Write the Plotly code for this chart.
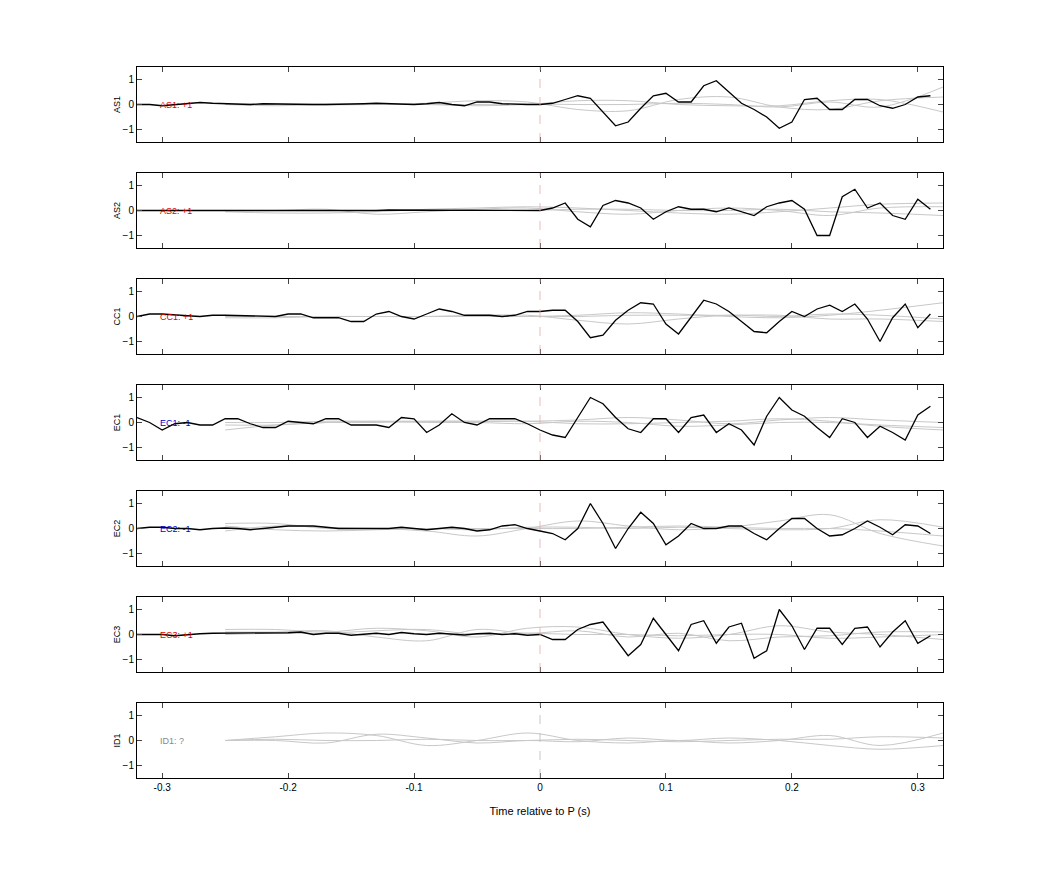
import plotly.graph_objects as go

t_black = [round(-0.32 + 0.01*i, 2) for i in range(64)]
t_gray = [-0.25, -0.21, -0.17, -0.13, -0.09, -0.05, -0.01, 0.03, 0.07, 0.11, 0.15, 0.19, 0.23, 0.27, 0.32]

channels = ["AS1", "AS2", "CC1", "EC1", "EC2", "EC3", "ID1"]
labels = ["AS1: +1", "AS2: +1", "CC1: +1", "EC1: -1", "EC2: -1", "EC3: +1", "ID1: ?"]
label_colors = ["#dd0000", "#dd0000", "#dd0000", "#0000cc", "#0000cc", "#dd0000", "#888888"]

as1 = [0.0, 0.0, -0.05, 0.0, 0.05, 0.08, 0.05, 0.03, 0.02, 0.0, 0.03, 0.02, 0.0, 0.02, 0.0, 0.0, 0.0, 0.0, 0.03, 0.05, 0.03, 0.0, 0.0, 0.03, 0.08, 0.0, -0.05, 0.1, 0.1, 0.03, 0.0, 0.0,
       0.0, 0.05, 0.2, 0.35, 0.25, -0.3, -0.85, -0.7, -0.15, 0.35, 0.45, 0.1, 0.1, 0.75, 0.95, 0.5, 0.05, -0.2, -0.5, -0.95, -0.7, 0.2, 0.25, -0.2, -0.2, 0.2, 0.2, -0.05, -0.15, 0.0, 0.3, 0.35]
as2 = [0.0, 0.0, 0.0, 0.0, 0.0, 0.0, 0.0, -0.02, 0.0, 0.0, 0.0, 0.0, 0.0, 0.0, 0.0, 0.0, 0.0, 0.0, 0.0, 0.0, 0.02, 0.02, 0.03, 0.03, 0.03, 0.02, 0.02, 0.02, 0.0, 0.0, 0.0, 0.0,
       0.0, 0.1, 0.3, -0.35, -0.65, 0.2, 0.4, 0.3, 0.1, -0.35, -0.05, 0.15, 0.05, 0.05, -0.05, 0.1, -0.05, -0.2, 0.15, 0.3, 0.4, 0.05, -1.0, -1.0, 0.55, 0.85, 0.1, 0.3, -0.2, -0.35, 0.45, 0.05]
cc1 = [0.0, 0.1, 0.1, 0.05, 0.03, 0.0, 0.05, 0.05, 0.03, 0.02, 0.0, 0.0, 0.1, 0.1, -0.05, -0.05, -0.05, -0.2, -0.2, 0.1, 0.2, 0.0, -0.1, 0.1, 0.3, 0.2, 0.05, 0.05, 0.05, 0.0, 0.05, 0.2,
       0.2, 0.25, 0.25, -0.2, -0.85, -0.75, -0.15, 0.25, 0.55, 0.5, -0.3, -0.7, 0.0, 0.65, 0.5, 0.2, -0.2, -0.6, -0.65, -0.2, 0.2, 0.0, 0.3, 0.45, 0.2, 0.5, -0.1, -1.0, -0.05, 0.5, -0.45, 0.1]
ec1 = [0.2, 0.0, -0.3, -0.05, 0.0, -0.1, -0.1, 0.15, 0.15, -0.05, -0.2, -0.2, 0.05, 0.0, -0.05, 0.15, 0.15, -0.1, -0.1, -0.1, -0.2, 0.2, 0.15, -0.4, -0.1, 0.35, 0.0, -0.1, 0.15, 0.15, 0.15, -0.05,
       -0.3, -0.5, -0.6, 0.2, 1.0, 0.75, 0.2, -0.25, -0.4, 0.15, 0.15, -0.4, 0.2, 0.3, -0.4, -0.05, -0.3, -0.9, 0.25, 1.0, 0.5, 0.25, -0.2, -0.6, 0.15, 0.0, -0.6, -0.15, -0.4, -0.7, 0.3, 0.65]
ec2 = [0.0, 0.05, 0.05, 0.0, 0.0, -0.05, 0.0, 0.02, 0.0, -0.05, 0.0, 0.05, 0.1, 0.1, 0.1, 0.05, 0.0, 0.0, 0.0, -0.03, 0.0, 0.05, 0.0, -0.05, 0.0, 0.05, 0.0, -0.1, -0.05, 0.1, 0.15, 0.0,
       -0.1, -0.2, -0.45, 0.0, 1.0, 0.2, -0.8, 0.0, 0.65, 0.2, -0.65, -0.3, 0.2, 0.0, 0.0, 0.1, 0.1, -0.2, -0.45, 0.0, 0.4, 0.4, 0.0, -0.3, -0.25, 0.0, 0.3, 0.05, -0.25, 0.15, 0.1, -0.2]
ec3 = [0.0, 0.0, 0.0, -0.05, 0.0, 0.03, 0.05, 0.05, 0.05, 0.05, 0.05, 0.05, 0.07, 0.1, 0.0, 0.05, 0.05, -0.03, 0.0, 0.05, 0.0, 0.08, 0.03, 0.0, 0.05, 0.0, -0.02, 0.03, 0.05, 0.0, 0.03, -0.03,
       0.0, -0.2, -0.2, 0.2, 0.4, 0.5, -0.2, -0.85, -0.4, 0.65, 0.0, -0.65, 0.4, 0.55, -0.35, 0.3, 0.45, -0.95, -0.65, 1.0, 0.35, -0.6, 0.25, 0.25, -0.4, 0.25, 0.3, -0.5, 0.1, 0.55, -0.35, -0.05]
black_series = [as1, as2, cc1, ec1, ec2, ec3, None]

gray_series = [
    [[0.0, -0.05, 0.0, 0.0, 0.05, 0.15, 0.1, -0.2, -0.25, 0.2, 0.3, -0.1, -0.2, 0.15, 0.3], [0.0, 0.02, -0.02, 0.0, 0.0, -0.05, 0.0, 0.15, 0.15, 0.0, -0.05, -0.05, 0.15, 0.2, -0.3], [0.0, 0.0, 0.02, 0.0, 0.0, 0.0, 0.02, 0.0, 0.0, 0.05, 0.0, -0.1, 0.1, -0.1, 0.7]],
    [[-0.05, -0.1, -0.1, -0.05, 0.05, 0.1, 0.15, 0.1, 0.0, -0.1, -0.15, -0.05, 0.1, 0.25, 0.3], [0.0, 0.0, 0.05, -0.15, -0.05, 0.05, 0.1, -0.05, -0.15, 0.0, 0.1, 0.0, -0.2, 0.1, 0.15], [0.0, 0.0, 0.0, 0.0, 0.0, 0.0, 0.0, 0.05, 0.05, 0.0, 0.0, 0.05, -0.05, -0.1, -0.2]],
    [[-0.05, -0.05, 0.0, 0.0, 0.0, 0.05, 0.05, -0.15, -0.3, -0.1, 0.05, 0.0, 0.1, 0.05, -0.1], [0.0, 0.0, 0.0, 0.0, 0.0, 0.0, 0.0, 0.05, 0.15, 0.1, 0.0, -0.05, 0.05, 0.25, 0.55], [0.0, 0.0, 0.0, 0.0, 0.0, 0.0, 0.0, 0.0, 0.05, 0.05, 0.05, 0.05, -0.1, -0.1, -0.2]],
    [[-0.3, -0.1, 0.0, 0.05, 0.05, 0.05, 0.05, 0.1, 0.2, 0.1, -0.05, 0.1, 0.2, 0.1, 0.0], [0.0, 0.0, 0.05, 0.05, 0.0, 0.0, -0.05, 0.05, 0.0, -0.15, -0.1, 0.0, 0.0, -0.1, -0.2], [-0.1, -0.1, 0.0, 0.0, 0.05, 0.05, 0.05, -0.05, -0.05, 0.0, 0.05, 0.15, 0.05, -0.15, -0.3]],
    [[0.2, 0.2, 0.0, 0.0, -0.1, -0.3, 0.0, 0.3, 0.1, -0.05, 0.05, 0.3, 0.55, -0.2, -0.7], [-0.1, 0.1, 0.05, 0.0, 0.0, -0.05, 0.05, 0.05, 0.0, 0.05, 0.0, -0.05, 0.0, 0.35, 0.05], [0.1, -0.05, -0.1, -0.05, 0.0, 0.0, 0.0, 0.0, 0.05, 0.1, 0.05, 0.0, 0.0, -0.1, -0.3]],
    [[0.2, 0.2, 0.1, 0.25, 0.15, -0.1, 0.25, 0.3, 0.0, -0.15, 0.0, 0.35, 0.1, 0.0, -0.2], [0.1, 0.1, 0.15, -0.1, -0.25, 0.2, 0.05, 0.15, -0.1, 0.05, -0.25, -0.1, -0.05, 0.1, 0.1], [0.0, 0.05, 0.05, 0.15, 0.2, 0.0, 0.05, 0.0, 0.0, -0.05, 0.0, 0.0, -0.15, -0.1, 0.0]],
    [[0.0, 0.15, 0.3, 0.2, -0.2, 0.0, 0.3, 0.0, -0.1, 0.0, -0.1, 0.0, 0.2, -0.2, 0.3], [0.0, 0.0, -0.1, 0.25, 0.1, -0.1, 0.0, -0.05, 0.1, 0.0, 0.1, 0.0, -0.2, -0.35, -0.2], [0.0, 0.05, 0.0, 0.0, 0.05, 0.0, 0.0, 0.05, 0.0, -0.05, 0.0, 0.05, 0.05, 0.15, 0.1]],
]

fig = go.Figure()
n = len(channels)
H, gap = 75, 31
total = n * H + (n - 1) * gap
for i, ch in enumerate(channels):
    ax = "" if i == 0 else str(i + 1)
    top = 1 - i * (H + gap) / total
    bot = top - H / total
    for g in gray_series[i]:
        fig.add_trace(go.Scatter(x=t_gray, y=g, mode="lines", line=dict(color="#c8c8c8", width=1, shape="spline"),
                                 xaxis="x" + ax, yaxis="y" + ax, showlegend=False, hoverinfo="skip"))
    if black_series[i] is not None:
        fig.add_trace(go.Scatter(x=t_black, y=black_series[i], mode="lines", line=dict(color="black", width=1.3),
                                 xaxis="x" + ax, yaxis="y" + ax, showlegend=False))
    fig.add_shape(type="line", x0=0, x1=0, y0=-1.5, y1=1.5, xref="x" + ax, yref="y" + ax,
                  line=dict(color="#e8a8a8" if i < 6 else "#b8b8b8", width=0.8, dash="dash"))
    fig.add_annotation(x=-0.303, y=0, xref="x" + ax, yref="y" + ax, text=labels[i], showarrow=False,
                       xanchor="left", font=dict(size=9, color=label_colors[i]))
    common = dict(showline=True, linecolor="black", linewidth=1, mirror="ticks", ticks="inside", ticklen=5,
                  showgrid=False, zeroline=False, tickfont=dict(size=10))
    fig.layout["xaxis" + ax] = dict(common, domain=[0, 1], range=[-0.32, 0.32], anchor="y" + ax,
                                    tickvals=[-0.3, -0.2, -0.1, 0, 0.1, 0.2, 0.3],
                                    ticktext=["-0.3", "-0.2", "-0.1", "0", "0.1", "0.2", "0.3"],
                                    showticklabels=(i == n - 1),
                                    title=dict(text="Time relative to P (s)", font=dict(size=11)) if i == n - 1 else None)
    fig.layout["yaxis" + ax] = dict(common, domain=[bot, top], range=[-1.5, 1.5], anchor="x" + ax,
                                    tickvals=[-1, 0, 1], title=dict(text=ch, font=dict(size=9), standoff=0))

fig.update_layout(width=1042, height=875, margin=dict(l=129, r=107, t=59, b=105),
                  plot_bgcolor="white", paper_bgcolor="white",
                  font=dict(family="Liberation Sans, Arial, sans-serif", color="black"))
fig.write_html("out.html")
